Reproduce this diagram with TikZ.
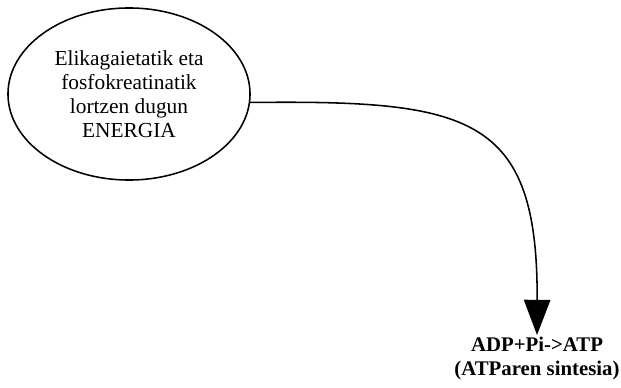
\documentclass[tikz,border=0pt]{standalone}
\usepackage{fontspec}
\setmainfont{Liberation Serif}
\usetikzlibrary{arrows.meta,positioning,shapes.geometric}

\tikzset{
  bubble/.style={draw,ellipse,line width=1.1pt,minimum width=6.05cm,minimum height=4.3cm,
                 inner sep=0pt,align=center,font=\fontsize{15.2}{17.2}\selectfont},
  result/.style={align=center,inner sep=1pt,font=\bfseries\fontsize{14.8}{17.2}\selectfont},
  flow/.style={line width=1.1pt,-{Triangle[width=0.66cm,length=0.88cm]}}
}

\begin{document}
\begin{tikzpicture}[x=0.025cm,y=-0.025cm]
\useasboundingbox (0,0) rectangle (621,388);
% Energy source
\node[bubble] (energia) at (129,94)
  {Elikagaietatik eta\\fosfokreatinatik\\lortzen dugun\\ENERGIA};
% ATP synthesis
\node[result,anchor=north] (atp) at (537,335) {ADP+Pi->ATP\\(ATParen sintesia)};
% Connector
\draw[flow] (energia.-4) .. controls (470,100) and (538,115) .. (atp.north);
\end{tikzpicture}
\end{document}
